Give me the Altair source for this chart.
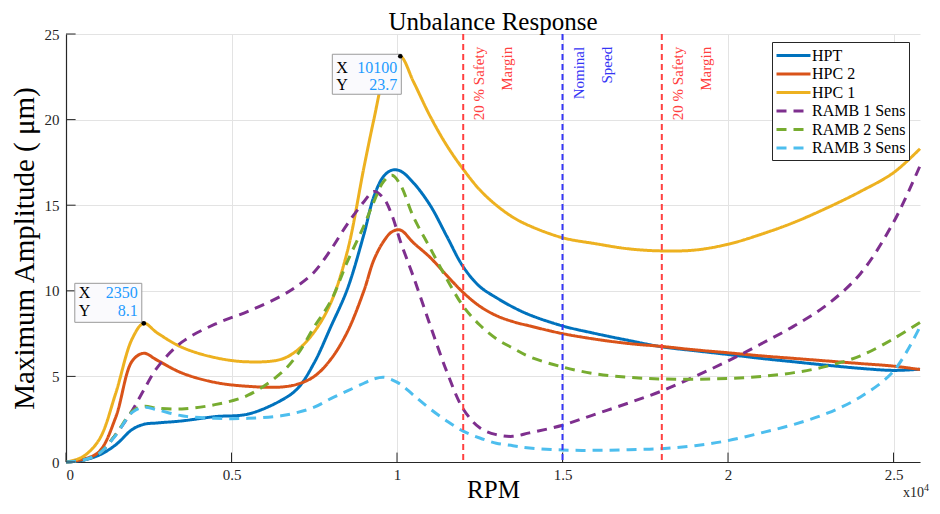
import altair as alt
import pandas as pd

# ---------------- data ----------------
rpm = [0, 500, 1000, 1500, 2000, 2350, 2750, 3500, 4500, 5500, 6500, 7000, 7500,
       8000, 8500, 9000, 9300, 9600, 9850, 10100, 10500, 11000, 11500, 12000,
       12500, 13000, 13500, 14000, 15000, 16000, 17000, 18000, 19000, 20000,
       21000, 22000, 23000, 24000, 25000, 25800]

hpt = [0, 0.1, 0.4, 1.0, 1.9, 2.2, 2.28, 2.4, 2.65, 2.8, 3.6, 4.3, 5.8,
       7.9, 10.1, 13.3, 15.5, 16.7, 17.05, 17.0, 16.3, 15.0, 13.2, 11.4,
       10.25, 9.6, 9.05, 8.6, 7.95, 7.5, 7.1, 6.73, 6.5, 6.28,
       6.05, 5.85, 5.65, 5.47, 5.35, 5.42]

hpc2 = [0, 0.15, 0.6, 2.6, 5.9, 6.35, 5.95, 5.2, 4.65, 4.42, 4.38, 4.55, 5.0,
        6.0, 7.6, 10.0, 11.8, 12.9, 13.45, 13.55, 12.8, 11.95, 10.9, 9.9,
        9.1, 8.55, 8.2, 7.95, 7.5, 7.17, 6.92, 6.75, 6.55, 6.38,
        6.2, 6.05, 5.9, 5.75, 5.6, 5.4]

hpc1 = [0, 0.3, 1.3, 4.0, 7.2, 8.1, 7.55, 6.7, 6.1, 5.85, 6.0, 6.55, 7.6,
        9.3, 12.3, 17.2, 20.0, 22.5, 23.4, 23.7, 22.2, 20.2, 18.5, 17.1,
        15.9, 15.0, 14.3, 13.8, 13.1, 12.75, 12.45, 12.33, 12.38, 12.72,
        13.3, 14.0, 14.85, 15.8, 16.9, 18.3]

ramb1 = [0, 0.1, 0.5, 1.6, 3.0, 4.2, 5.5, 7.0, 8.05, 8.8, 9.7, 10.3, 11.1,
         12.4, 13.9, 15.2, 15.8, 15.4, 14.4, 12.9, 10.8, 8.0, 5.3, 3.1,
         2.0, 1.6, 1.5, 1.7, 2.15, 2.8, 3.45, 4.15, 5.0, 5.9,
         6.9, 7.95, 9.2, 11.0, 14.0, 17.3]

ramb2 = [0, 0.1, 0.5, 1.6, 2.95, 3.25, 3.15, 3.1, 3.35, 3.9, 5.2, 6.3, 7.9,
         9.4, 11.7, 13.8, 15.2, 16.4, 16.75, 16.2, 14.3, 12.5, 10.7, 9.1,
         8.0, 7.2, 6.65, 6.15, 5.55, 5.15, 4.95, 4.85, 4.83, 4.88,
         5.0, 5.22, 5.6, 6.2, 7.2, 8.15]

ramb3 = [0, 0.1, 0.5, 1.55, 2.9, 3.2, 3.05, 2.7, 2.55, 2.55, 2.7, 2.9, 3.2,
         3.7, 4.15, 4.6, 4.85, 4.95, 4.8, 4.55, 3.9, 3.1, 2.4, 1.8,
         1.4, 1.1, 0.95, 0.82, 0.7, 0.68, 0.72, 0.78, 0.95, 1.25,
         1.7, 2.2, 2.85, 3.8, 5.3, 7.9]

series_names = ["HPT", "HPC 2", "HPC 1", "RAMB 1 Sens", "RAMB 2 Sens", "RAMB 3 Sens"]
series_values = [hpt, hpc2, hpc1, ramb1, ramb2, ramb3]
series_colors = ["#0072BD", "#D95319", "#EDB120", "#7E2F8E", "#77AC30", "#4DBEEE"]
series_dash = [[1, 0], [1, 0], [1, 0], [10, 7], [10, 7], [10, 7]]

vline_rpm = [12000, 15000, 18000]
vline_colors = ["#FF4040", "#3535F5", "#FF4040"]
vline_text1 = ["20 % Safety", "Nominal", "20 % Safety"]
vline_text2 = ["Margin", "Speed", "Margin"]

tip_rpm = [10100, 2350]
tip_amp = [23.7, 8.1]
tip_xlabel = ["10100", "2350"]
tip_ylabel = ["23.7", "8.1"]

x_ticks = [0, 5000, 10000, 15000, 20000, 25000]
y_ticks = [0, 5, 10, 15, 20, 25]

# ---------------- tables ----------------
rows = []
for name, vals in zip(series_names, series_values):
    for r, v in zip(rpm, vals):
        rows.append({"rpm": r, "amp": v, "series": name})
df = pd.DataFrame(rows)

vdf = pd.DataFrame({"rpm": vline_rpm, "color": vline_colors,
                    "t1": vline_text1, "t2": vline_text2})

SERIF = "Liberation Serif"
XMAX = 25800
xs = alt.Scale(domain=[0, XMAX], nice=False, zero=False)
ys = alt.Scale(domain=[0, 25], nice=False)

xaxis = alt.Axis(values=x_ticks, labelExpr="datum.value / 10000", title="RPM",
                 grid=True, ticks=False, labelPadding=5, titlePadding=-5,
                 labelFontSize=15, titleFontSize=25)
yaxis = alt.Axis(values=y_ticks, title="Maximum Amplitude ( μm)", grid=True,
                 ticks=False, labelPadding=7, titlePadding=5,
                 labelFontSize=15, titleFontSize=29)

legend = alt.Legend(title=None,
                    labelExpr="datum.label + '\u00a0\u00a0\u00a0\u00a0\u00a0'")

lines = alt.Chart(df).mark_line(strokeWidth=3, interpolate="catmull-rom").encode(
    x=alt.X("rpm:Q", scale=xs, axis=xaxis),
    y=alt.Y("amp:Q", scale=ys, axis=yaxis),
    color=alt.Color("series:N", scale=alt.Scale(domain=series_names, range=series_colors),
                    legend=legend),
    strokeDash=alt.StrokeDash("series:N", scale=alt.Scale(domain=series_names, range=series_dash),
                              legend=legend),
    order=alt.Order("rpm:Q"),
)

# inward tick marks (MATLAB style)
xt = alt.Chart(pd.DataFrame({"v": x_ticks})).mark_rule(color="#262626", strokeWidth=1).encode(
    x=alt.X("v:Q", scale=xs), y=alt.datum(0, scale=ys), y2=alt.datum(0.55))
yt = alt.Chart(pd.DataFrame({"v": y_ticks})).mark_rule(color="#262626", strokeWidth=1).encode(
    y=alt.Y("v:Q", scale=ys), x=alt.datum(0, scale=xs), x2=alt.datum(290))

vrules = alt.Chart(vdf).mark_rule(strokeWidth=2, strokeDash=[6, 4]).encode(
    x=alt.X("rpm:Q", scale=xs),
    color=alt.Color("color:N", scale=None),
)
vtext1 = alt.Chart(vdf).mark_text(angle=270, align="right", baseline="middle",
                                  dy=16, font=SERIF, fontSize=15).encode(
    x=alt.X("rpm:Q", scale=xs), y=alt.datum(24.25, scale=ys),
    text="t1:N", color=alt.Color("color:N", scale=None))
vtext2 = alt.Chart(vdf).mark_text(angle=270, align="right", baseline="middle",
                                  dy=44, font=SERIF, fontSize=15).encode(
    x=alt.X("rpm:Q", scale=xs), y=alt.datum(24.25, scale=ys),
    text="t2:N", color=alt.Color("color:N", scale=None))

# data tips
def datatip(i, box, xrow, yrow):
    d = pd.DataFrame({"rpm": [tip_rpm[i]], "amp": [tip_amp[i]],
                      "xl": [tip_xlabel[i]], "yl": [tip_ylabel[i]]})
    base = alt.Chart(d)
    enc = dict(x=alt.X("rpm:Q", scale=xs), y=alt.Y("amp:Q", scale=ys))
    rect = base.mark_rect(fill="#FAFAFD", stroke="#9A9A9A", strokeWidth=1,
                          xOffset=box[0], x2Offset=box[1], yOffset=box[2], y2Offset=box[3]).encode(
        x2="rpm:Q", y2="amp:Q", **enc)
    dot = base.mark_point(filled=True, color="black", size=22, opacity=1).encode(**enc)
    lx = base.mark_text(align="left", baseline="middle", font=SERIF, fontSize=16,
                        color="black", dx=box[0] + 4, dy=xrow).encode(text=alt.value("X"), **enc)
    ly = base.mark_text(align="left", baseline="middle", font=SERIF, fontSize=16,
                        color="black", dx=box[0] + 4, dy=yrow).encode(text=alt.value("Y"), **enc)
    vx = base.mark_text(align="right", baseline="middle", font=SERIF, fontSize=16,
                        color="#1E9BFF", dx=box[1] - 4, dy=xrow).encode(text="xl:N", **enc)
    vy = base.mark_text(align="right", baseline="middle", font=SERIF, fontSize=16,
                        color="#1E9BFF", dx=box[1] - 4, dy=yrow).encode(text="yl:N", **enc)
    return [rect, dot, lx, ly, vx, vy]

tip1 = datatip(0, (-68, 1, -2, 38), 12, 29)
tip2 = datatip(1, (-69, -2, -40, -1), -30, -12)

# x10^4 multiplier
mult = alt.Chart(pd.DataFrame({"v": [XMAX]})).mark_text(
    align="right", baseline="alphabetic", font=SERIF, fontSize=14, color="#262626", dx=4, dy=0).encode(
    x=alt.X("v:Q", scale=xs), y=alt.datum(-2.05, scale=ys), text=alt.value("x10"))
mult4 = alt.Chart(pd.DataFrame({"v": [XMAX]})).mark_text(
    align="left", baseline="alphabetic", font=SERIF, fontSize=10, color="#262626", dx=4, dy=-6).encode(
    x=alt.X("v:Q", scale=xs), y=alt.datum(-2.05, scale=ys), text=alt.value("4"))

chart = alt.layer(lines, xt, yt, vrules, vtext1, vtext2, *tip1, *tip2, mult, mult4).properties(
    width=854, height=428,
    title=alt.Title("Unbalance Response", font=SERIF, fontSize=25, fontWeight="normal",
                    color="black", offset=3, dy=11),
    autosize=alt.AutoSizeParams(type="none"),
    padding={"left": 58, "top": 26, "right": 12, "bottom": 44},
).configure_view(stroke=None).configure_axis(
    labelFont=SERIF, titleFont=SERIF, labelColor="#262626", titleColor="black",
    titleFontWeight="normal", domainColor="#262626", domainWidth=1.2,
    gridColor="#E3E3E3", gridWidth=1,
).configure_legend(
    orient="none", legendX=706, legendY=8, strokeColor="#262626", fillColor="white",
    padding=3.5, symbolType="M-2,0H2", symbolSize=289, symbolStrokeWidth=3,
    symbolOffset=8, labelFont=SERIF, labelFontSize=16, labelColor="black",
    rowPadding=0.5, labelOffset=8.5, cornerRadius=0,
)

chart.save("out.html", embed_options={"renderer": "svg", "actions": False})
